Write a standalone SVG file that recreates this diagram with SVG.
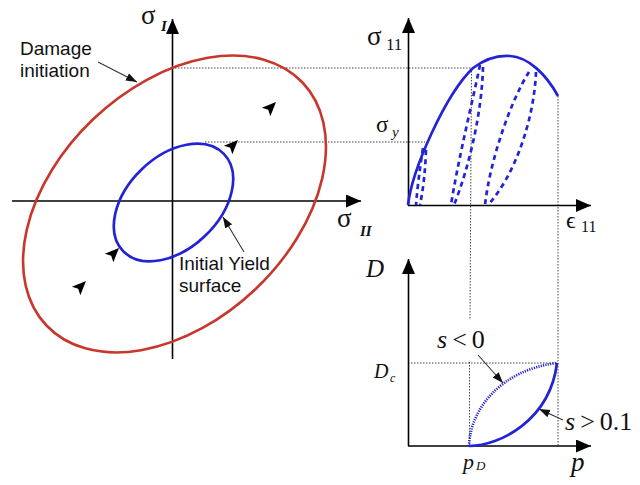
<svg xmlns="http://www.w3.org/2000/svg" width="640" height="485" viewBox="0 0 640 485">
<style>
.ax{stroke:#000;stroke-width:1.6;fill:none}
.dot{stroke:#444;stroke-width:1;stroke-dasharray:1.5 1.5;fill:none}
.blue{stroke:#2323d6;stroke-width:2.7;fill:none}
.dash{stroke:#2323d6;stroke-width:2.7;fill:none;stroke-dasharray:5 4}
.bdot{stroke:#2323d6;stroke-width:2.7;fill:none;stroke-dasharray:1.2 1.2}
.red{stroke:#c8372d;stroke-width:2.6;fill:none}
.ptr{stroke:#333;stroke-width:1.1;fill:none}
.sans{font-family:"Liberation Sans",Arial,sans-serif;font-size:19px;fill:#111}
.ser{font-family:"Liberation Serif","DejaVu Serif",serif;fill:#111}
</style>
<defs>
<marker id="axh" markerUnits="userSpaceOnUse" markerWidth="16" markerHeight="14" refX="15" refY="6.5" orient="auto"><path d="M0,0 L15,6.5 L0,13 Z" fill="#000"/></marker>
<marker id="sh" markerUnits="userSpaceOnUse" markerWidth="12" markerHeight="9" refX="11" refY="4" orient="auto"><path d="M0,0 L11,4 L0,8 Z" fill="#111"/></marker>
<path id="tri" d="M0,0 L-14,-6 L-11,0 L-14,6 Z" fill="#000"/>
</defs>

<g id="dotted-guides">
<line class="dot" x1="172" y1="68" x2="473" y2="68"/>
<line class="dot" x1="205" y1="142" x2="425" y2="142"/>
<line class="dot" x1="471.5" y1="68" x2="470" y2="320"/>
<line class="dot" x1="469.5" y1="362" x2="469.5" y2="446"/>
<line class="dot" x1="558" y1="96" x2="558" y2="446"/>
<line class="dot" x1="408" y1="363" x2="558" y2="363"/>
</g>

<g id="left-plot">
<g id="axes-left">
<line class="ax" x1="172.5" y1="359" x2="172.5" y2="19" marker-end="url(#axh)"/>
<line class="ax" x1="12" y1="201" x2="361" y2="201" marker-end="url(#axh)"/>
<text class="ser" x="141" y="24" font-size="27">σ</text>
<text class="ser" x="161" y="31" font-size="15" font-style="italic" font-weight="bold">I</text>
<text class="ser" x="337" y="227" font-size="27">σ</text>
<text class="ser" x="360" y="236" font-size="15" font-style="italic" font-weight="bold">II</text>
</g>
<g id="damage-surface">
<ellipse class="red" cx="174.5" cy="204" rx="176.5" ry="117.5" transform="rotate(-43.5 174.5 204)"/>
</g>
<g id="yield-surface">
<ellipse class="blue" cx="173.5" cy="202.5" rx="70" ry="46" transform="rotate(-44 173.5 202.5)"/>
</g>
<g id="loading-arrows">
<use href="#tri" transform="translate(276,102) rotate(-45)"/>
<use href="#tri" transform="translate(238,140) rotate(-45)"/>
<use href="#tri" transform="translate(119,248) rotate(-45)"/>
<use href="#tri" transform="translate(86,281) rotate(-45)"/>
</g>
<g id="label-damage">
<text class="sans" x="20" y="55">Damage</text>
<text class="sans" x="20" y="77">initiation</text>
</g>
<g id="label-yield">
<text class="sans" x="179" y="270">Initial Yield</text>
<text class="sans" x="179" y="292">surface</text>
</g>
</g>

<g id="connectors">
<line class="ptr" x1="98" y1="62" x2="137" y2="82" marker-end="url(#sh)"/>
<line class="ptr" x1="244" y1="252" x2="223" y2="217" marker-end="url(#sh)"/>
<line class="ptr" x1="478" y1="355" x2="503" y2="383" marker-end="url(#sh)"/>
<line class="ptr" x1="563" y1="420" x2="539" y2="409" marker-end="url(#sh)"/>
</g>

<g id="stress-strain-plot">
<line class="ax" x1="408.5" y1="206" x2="408.5" y2="18" marker-end="url(#axh)"/>
<line class="ax" x1="408" y1="205.5" x2="591" y2="205.5" marker-end="url(#axh)"/>
<path class="blue" d="M408,205 C412,170 445,95 473,68 C485,59 497,55 510,56 C528,57 546,74 558,96"/>
<path class="dash" d="M423,148 Q418,180 416,205"/>
<path class="dash" d="M426,150 Q425,180 420,205"/>
<path class="dash" d="M480,65 C474,95 458,160 451,205"/>
<path class="dash" d="M483,67 C482,110 470,165 454,205"/>
<path class="dash" d="M529,72 C511,100 490,160 485,205"/>
<path class="dash" d="M536,72 C534,120 515,175 488,205"/>
<text class="ser" x="367" y="45" font-size="27">σ</text>
<text class="ser" x="386" y="50" font-size="17">11</text>
<text class="ser" x="376" y="132" font-size="23">σ</text>
<text class="ser" x="392" y="137" font-size="15" font-style="italic">y</text>
<text class="ser" x="566" y="228" font-size="24">ϵ</text>
<text class="ser" x="581" y="232" font-size="16">11</text>
</g>

<g id="damage-plot">
<line class="ax" x1="408.5" y1="446" x2="408.5" y2="259" marker-end="url(#axh)"/>
<line class="ax" x1="408" y1="446" x2="591" y2="446" marker-end="url(#axh)"/>
<path class="bdot" d="M469,446 C470,410 500,370 557,363"/>
<path class="blue" d="M469,446 C500,446 550,420 557,363"/>
<text class="ser" x="366" y="277" font-size="25" font-style="italic">D</text>
<text class="ser" x="374" y="378" font-size="20" font-style="italic">D</text>
<text class="ser" x="390" y="382" font-size="12" font-style="italic">c</text>
<text class="ser" x="463" y="469" font-size="22" font-style="italic">p</text>
<text class="ser" x="476" y="470" font-size="13" font-style="italic">D</text>
<text class="ser" x="571" y="471" font-size="27" font-style="italic">p</text>
<text class="ser" x="437" y="348" font-size="26"><tspan font-style="italic">s</tspan><tspan dx="5">&lt;</tspan><tspan dx="5">0</tspan></text>
<text class="ser" x="565" y="430" font-size="26"><tspan font-style="italic">s</tspan><tspan dx="5">&gt;</tspan><tspan dx="5">0.1</tspan></text>
</g>
</svg>
